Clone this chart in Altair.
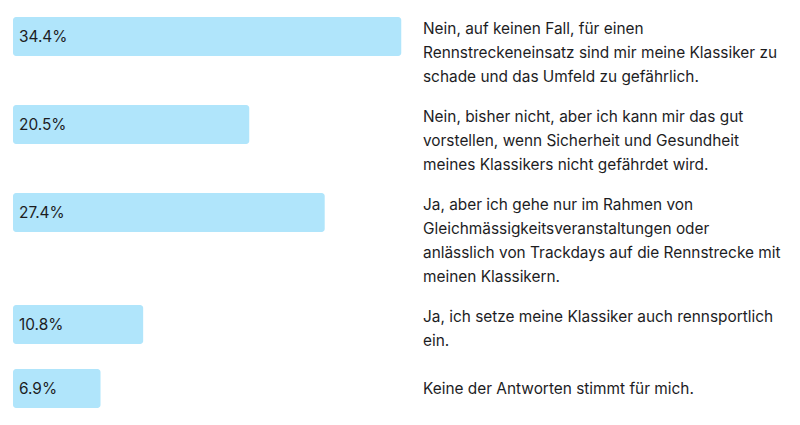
import altair as alt
import pandas as pd

# ---- data ----
values = [34.4, 20.5, 27.4, 10.8, 6.9]
labels = ["34.4%", "20.5%", "27.4%", "10.8%", "6.9%"]
answers = [
    ["Nein, auf keinen Fall, für einen",
     "Rennstreckeneinsatz sind mir meine Klassiker zu",
     "schade und das Umfeld zu gefährlich."],
    ["Nein, bisher nicht, aber ich kann mir das gut",
     "vorstellen, wenn Sicherheit und Gesundheit",
     "meines Klassikers nicht gefährdet wird."],
    ["Ja, aber ich gehe nur im Rahmen von",
     "Gleichmässigkeitsveranstaltungen oder",
     "anlässlich von Trackdays auf die Rennstrecke mit",
     "meinen Klassikern."],
    ["Ja, ich setze meine Klassiker auch rennsportlich",
     "ein."],
    ["Keine der Antworten stimmt für mich."],
]

# ---- layout derived from line counts ----
W, H = 784, 409
LINE = 24
BAR_H = 39
GAP = 16
TOP = 9
FONT = "Inter, Helvetica, Arial, Liberation Sans"

bars, texts = [], []
top = TOP
for v, lab, lines in zip(values, labels, answers):
    n = len(lines)
    block = max(BAR_H, LINE * n)
    bars.append({"value": v, "label": lab, "y0": top, "y1": top + BAR_H,
                 "ymid": top + BAR_H / 2})
    first = top + (block - LINE * n) / 2 + LINE / 2
    for i, line in enumerate(lines):
        texts.append({"line": line, "y": first + i * LINE})
    top += LINE * max(n, 2) + GAP if n > 1 else block + 25

bar_df = pd.DataFrame(bars)
text_df = pd.DataFrame(texts)

xscale = alt.Scale(domain=[-1.56, 70.13], range=[0, W])
yscale = alt.Scale(domain=[0, H], range=[0, H])

base_bar = alt.Chart(bar_df)

bar = base_bar.mark_bar(color="#b0e5fb", cornerRadius=3).encode(
    x=alt.X("value:Q", scale=xscale, axis=None),
    x2=alt.value(5),
    y=alt.Y("y0:Q", scale=yscale, axis=None),
    y2="y1:Q",
)

pct = base_bar.mark_text(
    align="left", baseline="middle", fontSize=15.4,
    font=FONT, color="#1d1d1f",
).encode(
    x=alt.value(11),
    y=alt.Y("ymid:Q", scale=yscale, axis=None),
    text="label:N",
)

answer = alt.Chart(text_df).mark_text(
    align="left", baseline="middle", fontSize=15.4,
    font=FONT, color="#1d1d1f",
).encode(
    x=alt.value(415),
    y=alt.Y("y:Q", scale=yscale, axis=None),
    text="line:N",
)

chart = alt.layer(bar, pct, answer).properties(
    width=W, height=H,
    autosize=alt.AutoSizeParams(type="none"),
    padding=0,
).configure_view(stroke=None)

chart.save("out.html", embed_options={"renderer": "svg", "actions": False})
